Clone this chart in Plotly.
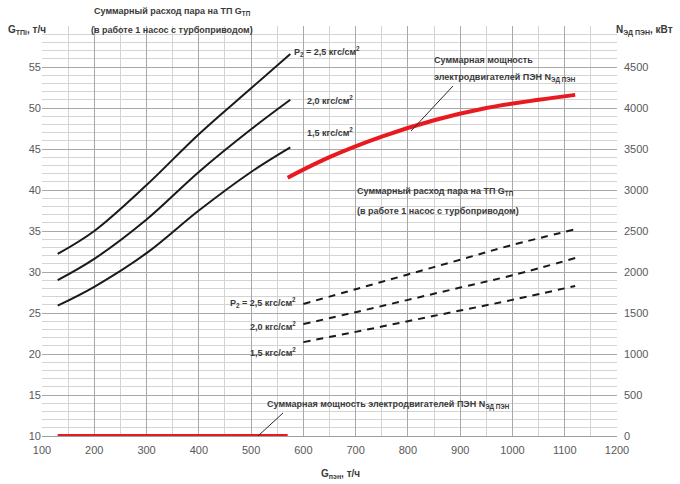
import plotly.graph_objects as go

# Steam flow to turbine drive, left axis (т/ч), solid curves by outlet pressure
g_pen_solid = [130, 200, 300, 400, 500, 575]
g_tp_25 = [32.2, 35.0, 40.6, 46.8, 52.4, 56.6]
g_tp_20 = [29.0, 31.6, 36.4, 42.2, 47.4, 51.0]
g_tp_15 = [25.9, 28.2, 32.3, 37.5, 42.2, 45.2]

# Same quantities on right axis scale (кВт), dashed
g_pen_dash = [600, 700, 800, 900, 1000, 1120]
n_dash_25 = [1610, 1790, 1970, 2150, 2330, 2520]
n_dash_20 = [1365, 1510, 1660, 1810, 1960, 2170]
n_dash_15 = [1145, 1270, 1400, 1530, 1660, 1830]

# Total electric motor power of feed pumps (кВт)
g_pen_motor = [570, 650, 750, 850, 950, 1050, 1120]
n_motor = [3150, 3400, 3650, 3850, 4000, 4100, 4160]
g_pen_motor_zero = [130, 570]
n_motor_zero = [0, 0]

left_ticks = [10, 15, 20, 25, 30, 35, 40, 45, 50, 55]
right_ticks = [0, 500, 1000, 1500, 2000, 2500, 3000, 3500, 4000, 4500]
x_ticks = [100, 200, 300, 400, 500, 600, 700, 800, 900, 1000, 1100, 1200]

FONT = "Liberation Sans"
TXT = "#3a3a3a"

fig = go.Figure()
for ys in (g_tp_25, g_tp_20, g_tp_15):
    fig.add_trace(go.Scatter(x=g_pen_solid, y=ys, mode="lines", line=dict(color="#1a1a1a", width=2, shape="spline"),
                             showlegend=False, hoverinfo="skip"))
for ys in (n_dash_25, n_dash_20, n_dash_15):
    fig.add_trace(go.Scatter(x=g_pen_dash, y=ys, mode="lines", yaxis="y2",
                             line=dict(color="#1a1a1a", width=2, dash="7px,6px", shape="spline"),
                             showlegend=False, hoverinfo="skip"))
fig.add_trace(go.Scatter(x=g_pen_motor, y=n_motor, mode="lines", yaxis="y2",
                         line=dict(color="#e8191f", width=4, shape="spline"), showlegend=False, hoverinfo="skip"))
fig.add_trace(go.Scatter(x=g_pen_motor_zero, y=n_motor_zero, mode="lines", yaxis="y2",
                         line=dict(color="#e8191f", width=4), showlegend=False, hoverinfo="skip"))

L, R, T, B = 42, 617, 26, 436


def px(xp, yp):
    return (xp - L) / (R - L), (B - yp) / (B - T)


def label(text, xp, yp, anchor="left", size=9, color=TXT):
    x, y = px(xp, yp)
    fig.add_annotation(x=x, y=y, xref="paper", yref="paper", text=text, showarrow=False,
                       xanchor=anchor, yanchor="middle", align=anchor if anchor != "center" else "center",
                       font=dict(family=FONT, size=size, color=color))


label("<b>Суммарный расход пара на ТП G<sub>ТП</sub></b>", 172, 12, "center")
label("<b>(в работе 1 насос с турбоприводом)</b>", 172, 30, "center")
label("<b>G<sub>ТПi</sub>, т/ч</b>", 6, 30, "left", 10)
label("<b>N<sub>ЭД ПЭН</sub>, кВт</b>", 675, 30, "right", 10)

label("<b>P<sub>2</sub> = 2,5 кгс/см<sup>2</sup></b>", 292, 52)
label("<b>2,0 кгс/см<sup>2</sup></b>", 305, 100)
label("<b>1,5 кгс/см<sup>2</sup></b>", 305, 132)

label("<b>Суммарная мощность</b>", 432, 60)
label("<b>электродвигателей ПЭН N<sub>ЭД ПЭН</sub></b>", 432, 78)

label("<b>Суммарный расход пара на ТП G<sub>ТП</sub></b>", 355, 191)
label("<b>(в работе 1 насос с турбоприводом)</b>", 355, 211)

label("<b>P<sub>2</sub> = 2,5 кгс/см<sup>2</sup></b>", 298, 302, "right")
label("<b>2,0 кгс/см<sup>2</sup></b>", 298, 326, "right")
label("<b>1,5 кгс/см<sup>2</sup></b>", 298, 352, "right")

label("<b>Суммарная мощность электродвигателей ПЭН N<sub>ЭД ПЭН</sub></b>", 265, 405)

label("<b>G<sub>пэн</sub>, т/ч</b>", 340, 474, "center", 10)

# leader lines from captions to the motor power curves
for x0, y0, x1, y1 in ((453, 86, 411, 131), (283, 413, 258, 436)):
    a0 = px(x0, y0)
    a1 = px(x1, y1)
    fig.add_shape(type="line", xref="paper", yref="paper", x0=a0[0], y0=a0[1], x1=a1[0], y1=a1[1],
                  line=dict(color="#2a2a2a", width=1))

grid_major = "#a8a8a8"
grid_minor = "#d4d4d4"
fig.update_layout(
    width=680, height=484, margin=dict(l=L, r=680 - R, t=T, b=484 - B),
    paper_bgcolor="white", plot_bgcolor="white",
    font=dict(family=FONT, color="#595959", size=11),
    xaxis=dict(range=[100, 1200], tickvals=x_ticks, showgrid=True, gridcolor=grid_major, gridwidth=1,
               minor=dict(dtick=50, showgrid=True, gridcolor=grid_minor), zeroline=False,
               showline=True, linecolor="#a0a0a0", ticks="", ticklabelstandoff=4,
               tickfont=dict(size=11, color="#595959")),
    yaxis=dict(range=[10, 60], tickvals=left_ticks, showgrid=True, gridcolor=grid_major,
               minor=dict(dtick=1, showgrid=True, gridcolor=grid_minor), zeroline=False,
               showline=False, ticks="", tickfont=dict(size=11, color="#595959")),
    yaxis2=dict(range=[0, 5000], tickvals=right_ticks, overlaying="y", side="right", showgrid=False,
                zeroline=False, showline=False, ticks="", ticklabelstandoff=6,
                tickfont=dict(size=11, color="#595959")),
)

fig.write_html("out.html")
